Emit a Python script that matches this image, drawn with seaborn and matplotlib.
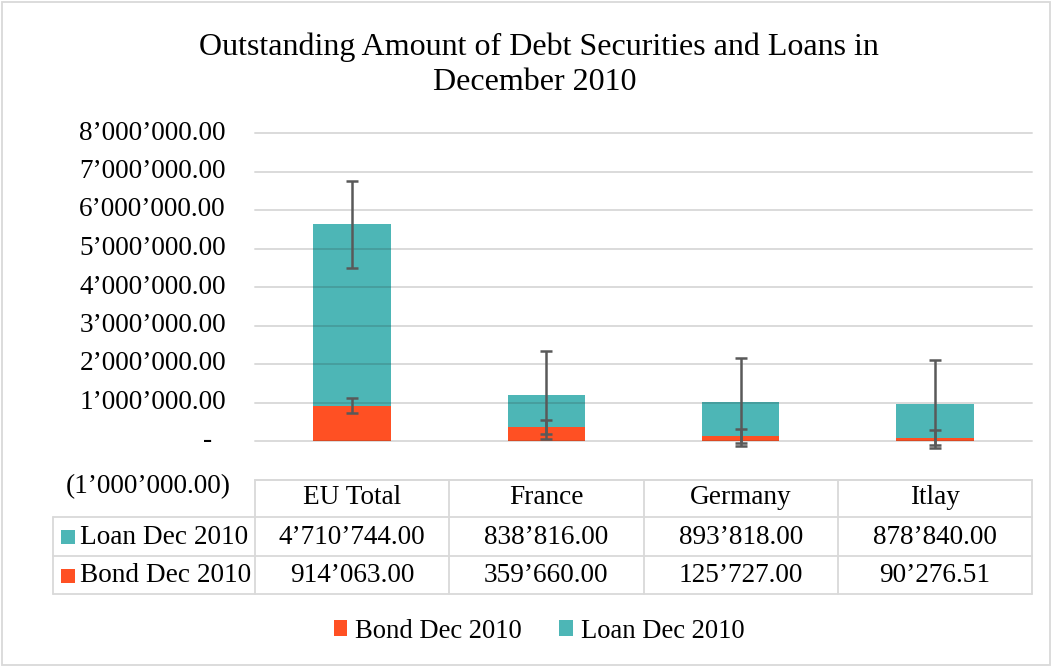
import matplotlib
matplotlib.use("Agg")
import matplotlib.pyplot as plt
import matplotlib.transforms as mtransforms
from matplotlib.lines import Line2D
from matplotlib.patches import Patch, Rectangle
import pandas as pd
import seaborn as sns

# ---- data -------------------------------------------------------------
categories = ["EU Total", "France", "Germany", "Itlay"]
loan_dec_2010 = [4710744.00, 838816.00, 893818.00, 878840.00]
bond_dec_2010 = [914063.00, 359660.00, 125727.00, 90276.51]
loan_err = [1140000, 1140000, 1140000, 1140000]
bond_err = [190000, 190000, 190000, 190000]
y_ticks = [-1000000, 0, 1000000, 2000000, 3000000, 4000000,
           5000000, 6000000, 7000000, 8000000]

BOND_COLOR = "#FF5023"
LOAN_COLOR = "#4DB6B6"
ERR_COLOR = "#595959"
GRID_GRAY = "#D9D9D9"
FONT = "Liberation Serif"
FS = 19.6

df = pd.DataFrame({"category": categories,
                   "loan": loan_dec_2010,
                   "bond": bond_dec_2010})
df["total"] = df["loan"] + df["bond"]

sns.set_theme(style="white")
plt.rcParams["font.family"] = [FONT, "DejaVu Serif"]

W, H = 1051, 666
fig = plt.figure(figsize=(W / 100, H / 100), dpi=100)


def fx(px):
    return px / W


def fy(py):
    return 1 - py / H


ax = fig.add_axes([fx(255), fy(479.5), fx(1032) - fx(255), fy(133) - fy(479.5)])

# stacked columns: full height in teal, bond part drawn over it
sns.barplot(data=df, x="category", y="total", color=LOAN_COLOR, width=0.4,
            errorbar=None, linewidth=0, saturation=1, ax=ax)
sns.barplot(data=df, x="category", y="bond", color=BOND_COLOR, width=0.4,
            errorbar=None, linewidth=0, saturation=1, ax=ax)

xpos = list(range(len(categories)))
ax.errorbar(xpos, df["bond"], yerr=bond_err, fmt="none", ecolor=ERR_COLOR,
            elinewidth=1.8, capsize=4.5, capthick=1.8, zorder=4)
ax.errorbar(xpos, df["total"], yerr=loan_err, fmt="none", ecolor=ERR_COLOR,
            elinewidth=1.8, capsize=4.5, capthick=1.8, zorder=4)

ax.set_xlim(-0.5, len(categories) - 0.5)
ax.set_ylim(-1000000, 8000000)
ax.set_yticks(y_ticks)
ax.set_yticklabels([])
ax.set_xticks([])
ax.set_xlabel("")
ax.set_ylabel("")
ax.tick_params(length=0)
for s in ax.spines.values():
    s.set_visible(False)
ax.set_axisbelow(False)
ax.grid(axis="y", color="#262626", alpha=0.17, linewidth=1.4, zorder=2.5)
ax.grid(axis="x", visible=False)
for gl in ax.get_ygridlines():
    gl.set_clip_on(False)


def fmt_num(v):
    return f"{v:,.2f}".replace(",", "\u2019")


# y-axis labels in accounting style
ylab = mtransforms.blended_transform_factory(fig.transFigure, ax.transData)
for v in y_ticks:
    if v == 0:
        ax.text(fx(208), v, "-", transform=ylab, ha="center", va="center",
                fontsize=FS, color="black")
    elif v < 0:
        ax.text(fx(231), v - 180000, "(" + fmt_num(-v) + ")", transform=ylab,
                ha="right", va="center", fontsize=FS, color="black")
    else:
        ax.text(fx(226), v, fmt_num(v), transform=ylab, ha="right",
                va="center", fontsize=FS, color="black")

# title
fig.text(fx(539), fy(47), "Outstanding Amount of Debt Securities and Loans in",
         ha="center", va="center", fontsize=23, color="black")
fig.text(fx(535), fy(83), "December 2010",
         ha="center", va="center", fontsize=23, color="black")

# data table under the plot
tbl = mtransforms.blended_transform_factory(ax.transData, fig.transFigure)
row_top, row_1, row_2, row_bot = fy(479.5), fy(517), fy(556), fy(594)
left_px = 53
lw = 1.3
x_edges = [i - 0.5 for i in range(len(categories) + 1)]

fig.add_artist(Line2D([x_edges[0], x_edges[-1]], [row_top, row_top],
                      transform=tbl, color=GRID_GRAY, lw=lw))
for yy in (row_1, row_2, row_bot):
    fig.add_artist(Line2D([fx(left_px), fx(1032)], [yy, yy],
                          transform=fig.transFigure, color=GRID_GRAY, lw=lw))
fig.add_artist(Line2D([fx(left_px), fx(left_px)], [row_1, row_bot],
                      transform=fig.transFigure, color=GRID_GRAY, lw=lw))
for xe in x_edges:
    fig.add_artist(Line2D([xe, xe], [row_top, row_bot], transform=tbl,
                          color=GRID_GRAY, lw=lw))

for i, cat in enumerate(categories):
    fig.text(i, fy(498), cat, transform=tbl, ha="center", va="center",
             fontsize=FS, color="black")
    fig.text(i, fy(537), fmt_num(loan_dec_2010[i]), transform=tbl,
             ha="center", va="center", fontsize=FS, color="black")
    fig.text(i, fy(576), fmt_num(bond_dec_2010[i]), transform=tbl,
             ha="center", va="center", fontsize=FS, color="black")

for yc, label, col in ((537, "Loan Dec 2010", LOAN_COLOR),
                       (576, "Bond Dec 2010", BOND_COLOR)):
    fig.add_artist(Rectangle((fx(61), fy(yc + 7)), fx(14), 14 / H,
                             transform=fig.transFigure, color=col, lw=0))
    fig.text(fx(79.5), fy(yc), label, ha="left", va="center",
             fontsize=FS, color="black")

# legend
handles = [Patch(facecolor=BOND_COLOR, edgecolor="none", label="Bond Dec 2010"),
           Patch(facecolor=LOAN_COLOR, edgecolor="none", label="Loan Dec 2010")]
fig.legend(handles=handles, loc="center", bbox_to_anchor=(fx(539), fy(631)),
           ncol=2, frameon=False, fontsize=19.2, handlelength=0.5,
           handleheight=0.5, handletextpad=0.3, columnspacing=1.4,
           labelcolor="black")

# chart border
fig.add_artist(Rectangle((fx(1.5), fy(664.5)), fx(1048), 663 / H,
                         transform=fig.transFigure, fill=False,
                         edgecolor=GRID_GRAY, lw=1.3))

fig.savefig("out.png", dpi=100)
